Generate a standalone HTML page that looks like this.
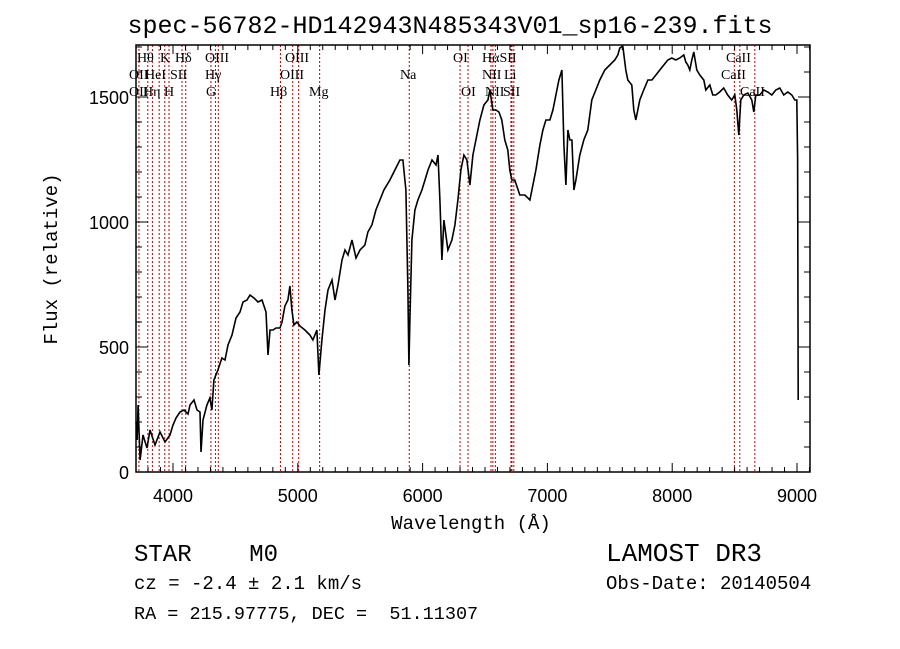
<!DOCTYPE html>
<html><head><meta charset="utf-8"><style>
body{margin:0;background:#fff;width:900px;height:649px;overflow:hidden}
svg{display:block}
.mono{font-family:"Liberation Mono",monospace;fill:#000}
.lab{font-family:"Liberation Serif",serif;font-size:14px;fill:#000}
.tick{font-family:"Liberation Sans",sans-serif;font-size:18px;fill:#000}
</style></head><body>
<svg id="chart" width="900" height="649" viewBox="0 0 900 649" xmlns="http://www.w3.org/2000/svg">
<text class="mono" x="450" y="33" font-size="25" text-anchor="middle">spec-56782-HD142943N485343V01_sp16-239.fits</text>
<g id="lines"></g>
<g id="labels"></g>
<g id="ticks"></g>
<path id="spec" fill="none" stroke="#000" stroke-width="1.6"/>
<rect x="136" y="45" width="674" height="427" fill="none" stroke="#000" stroke-width="1.5"/>
<text class="mono" x="471" y="529" font-size="19" text-anchor="middle">Wavelength (Å)</text>
<text class="mono" transform="translate(57,259) rotate(-90)" font-size="19" text-anchor="middle">Flux (relative)</text>
<text class="mono" x="134" y="561" font-size="24" xml:space="preserve">STAR    M0</text>
<text class="mono" x="134" y="589" font-size="19" xml:space="preserve">cz = -2.4 ± 2.1 km/s</text>
<text class="mono" x="134" y="619" font-size="18.5" xml:space="preserve">RA = 215.97775, DEC =  51.11307</text>
<text class="mono" x="606" y="561" font-size="26" xml:space="preserve">LAMOST DR3</text>
<text class="mono" x="606" y="589" font-size="19" xml:space="preserve">Obs-Date: 20140504</text>
</svg>
<script>
const wavelengths=[3704,3712,3720,3736,3760,3792,3816,3856,3896,3936,3976,4000,4024,4056,4088,4120,4136,4168,4192,4216,4224,4240,4272,4296,4312,4328,4360,4392,4417,4441,4473,4505,4537,4561,4593,4617,4649,4681,4713,4745,4761,4777,4801,4825,4857,4873,4897,4921,4937,4953,4969,4993,5017,5057,5097,5121,5153,5169,5193,5218,5242,5274,5298,5322,5354,5378,5402,5434,5466,5498,5538,5562,5594,5626,5658,5690,5738,5778,5818,5842,5866,5882,5890,5898,5914,5938,5962,5994,6019,6043,6075,6107,6123,6139,6155,6171,6203,6235,6259,6283,6307,6331,6355,6379,6403,6427,6459,6491,6523,6539,6563,6587,6611,6635,6659,6683,6699,6715,6739,6779,6820,6860,6884,6908,6940,6964,6988,7020,7044,7068,7092,7116,7132,7148,7164,7180,7196,7212,7228,7260,7292,7324,7356,7388,7420,7460,7500,7540,7564,7580,7604,7628,7644,7676,7692,7708,7740,7772,7805,7837,7869,7901,7933,7965,7997,8029,8061,8093,8109,8125,8141,8157,8173,8197,8221,8253,8269,8301,8325,8349,8381,8413,8445,8477,8502,8518,8534,8550,8574,8606,8638,8654,8670,8702,8734,8766,8798,8830,8862,8894,8926,8958,8982,8998,9005,9010];
const fluxes=[200,128,268,48,148,96,168,108,160,120,148,188,216,240,248,232,268,288,248,240,80,208,268,296,248,368,408,456,448,508,548,616,640,680,688,708,696,680,688,640,468,568,568,576,576,600,664,688,744,648,588,600,584,568,548,528,568,388,528,648,728,768,688,748,848,888,868,928,856,888,908,960,988,1048,1088,1128,1168,1208,1248,1248,1128,728,428,608,928,1048,1088,1128,1168,1208,1248,1228,1268,1088,848,1008,888,928,988,1088,1208,1268,1248,1148,1268,1328,1408,1468,1488,1528,1448,1448,1440,1408,1328,1288,1208,1168,1168,1108,1108,1088,1148,1208,1308,1368,1408,1408,1448,1508,1568,1608,1308,1148,1368,1328,1328,1128,1168,1268,1328,1368,1488,1528,1568,1608,1628,1648,1668,1696,1704,1608,1568,1548,1448,1408,1488,1528,1568,1568,1588,1608,1628,1648,1656,1648,1656,1668,1640,1628,1608,1648,1680,1608,1588,1568,1528,1548,1508,1508,1520,1536,1508,1488,1508,1448,1348,1488,1508,1516,1488,1440,1508,1508,1528,1520,1508,1528,1536,1508,1520,1508,1488,1488,1260,288];
const lineWaves=[3727,3798,3835,3889,3934,3968,4072,4102,4304,4340,4363,4861,4959,5007,5175,5893,6300,6364,6548,6563,6583,6708,6716,6731,8498,8542,8662];
const lineLabels=["Hθ","K","Hδ","OIII","OIII","OI","HαSII","CaII","OII","HeI","SII","Hγ","OIII","Na","NII","Li","CaII","OII","Hη","H","G","Hβ","Mg","OI","NII","SII","CaII"];
const labelX=[137,160,175,205,285,453,482,726,129,145,170,205,280,400,482,504,721,129,143,164,206,270,309,461,485,503,740];
const labelRow=[0,0,0,0,0,0,0,0,1,1,1,1,1,1,1,1,1,2,2,2,2,2,2,2,2,2,2];
const xTicks=[4000,5000,6000,7000,8000,9000];
const yTicks=[0,500,1000,1500];

const X0=136,X1=810,Y0=45,Y1=472;
function xs(l){return 173+(l-4000)*0.1248;}
function ys(f){return 472-f*0.25;}
const NS="http://www.w3.org/2000/svg";
function mk(t,a,p){const e=document.createElementNS(NS,t);for(const k in a)e.setAttribute(k,a[k]);p.appendChild(e);return e;}

let d="";
wavelengths.forEach((l,i)=>{d+=(i?"L":"M")+xs(l).toFixed(1)+","+Math.max(Y0,Math.min(Y1,ys(fluxes[i]))).toFixed(1);});
document.getElementById("spec").setAttribute("d",d);

const lg=document.getElementById("lines");
lineWaves.forEach(l=>{
  const e=mk("line",{x1:xs(l),x2:xs(l),y1:Y0,y2:Y1,stroke:"#c00000","stroke-width":1,"stroke-dasharray":"2,2"},lg);
  
  
});
const lb=document.getElementById("labels");
lineLabels.forEach((t,i)=>{
  const e=mk("text",{x:labelX[i],y:62+labelRow[i]*17,class:"lab"},lb);
  e.textContent=t;
  
  
});

const tg=document.getElementById("ticks");
for(let l=3800;l<=9100;l+=100){
  const major=l%1000===0,len=major?9:5,x=xs(l);
  mk("line",{x1:x,x2:x,y1:Y1,y2:Y1-len,stroke:"#000"},tg);
  mk("line",{x1:x,x2:x,y1:Y0,y2:Y0+len,stroke:"#000"},tg);
}
for(let f=0;f<=1700;f+=100){
  const major=f%500===0,len=major?12:6,y=ys(f);
  mk("line",{x1:X0,x2:X0+len,y1:y,y2:y,stroke:"#000"},tg);
  mk("line",{x1:X1,x2:X1-len,y1:y,y2:y,stroke:"#000"},tg);
}
xTicks.forEach(v=>{
  const e=mk("text",{x:xs(v),y:502,class:"tick","text-anchor":"middle"},tg);
  e.textContent=v;
  
  
});
yTicks.forEach(v=>{
  const e=mk("text",{x:129,y:ys(v)+7,class:"tick","text-anchor":"end"},tg);
  e.textContent=v;
  
  
});
</script>
</body></html>
